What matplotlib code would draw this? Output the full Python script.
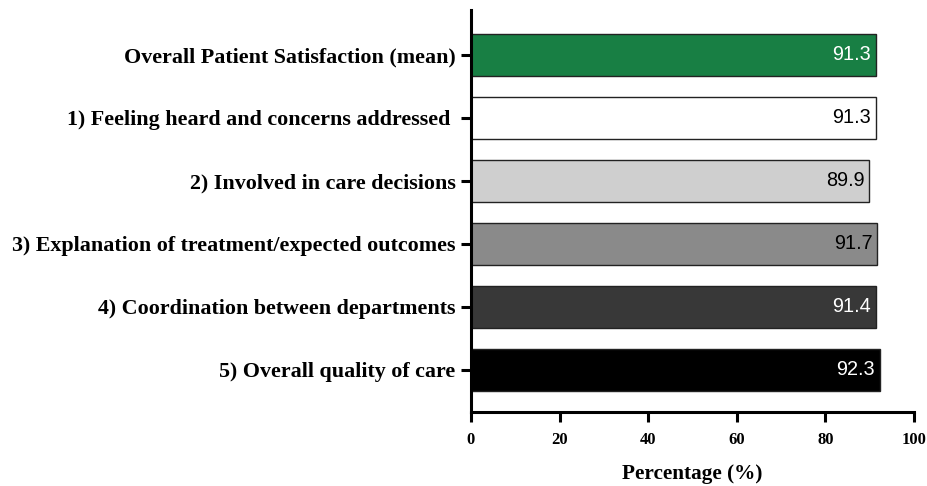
"""
Patient satisfaction horizontal bar chart
"""

import matplotlib
matplotlib.use('Agg')
import matplotlib.pyplot as plt

# Data
categories = [
    'Overall Patient Satisfaction (mean)',
    '1) Feeling heard and concerns addressed ',
    '2) Involved in care decisions',
    '3) Explanation of treatment/expected outcomes',
    '4) Coordination between departments',
    '5) Overall quality of care',
]
values = [91.3, 91.3, 89.9, 91.7, 91.4, 92.3]
bar_colors = ['#187f44', '#ffffff', '#cfcfcf', '#8a8a8a', '#383838', '#000000']
text_colors = ['white', 'black', 'black', 'black', 'white', 'white']
x_ticks = [0, 20, 40, 60, 80, 100]


def main():
    fig = plt.figure(figsize=(9.28, 4.86), dpi=100)
    ax = fig.add_axes([0.5075, 0.152, 0.4775, 0.827])

    positions = list(range(len(categories)))
    ax.barh(positions, values, height=0.66, color=bar_colors,
            edgecolor='#222222', linewidth=1.0)

    # value labels inside the bar end
    for pos, val, tc in zip(positions, values, text_colors):
        ax.text(val - 1.1, pos, f'{val:.1f}', ha='right', va='center',
                color=tc, fontsize=14.3, family='Liberation Sans')

    ax.set_ylim(5.67, -0.71)
    ax.set_xlim(0, 100)
    ax.set_yticks(positions)
    ax.set_yticklabels(categories, family='Liberation Serif',
                       fontweight='bold', fontsize=15.8)
    ax.set_xticks(x_ticks)
    ax.set_xticklabels([str(t) for t in x_ticks], family='Liberation Serif',
                       fontweight='bold', fontsize=12)
    ax.set_xlabel('Percentage (%)', family='Liberation Serif',
                  fontweight='bold', fontsize=15.3, labelpad=12)

    for side in ['top', 'right']:
        ax.spines[side].set_visible(False)
    for side in ['left', 'bottom']:
        ax.spines[side].set_linewidth(2.2)
    ax.tick_params(axis='both', width=2.2, length=7, direction='out')
    ax.tick_params(axis='y', pad=4)
    ax.tick_params(axis='x', pad=7)

    fig.savefig('out.png', dpi=100)


if __name__ == "__main__":
    main()
